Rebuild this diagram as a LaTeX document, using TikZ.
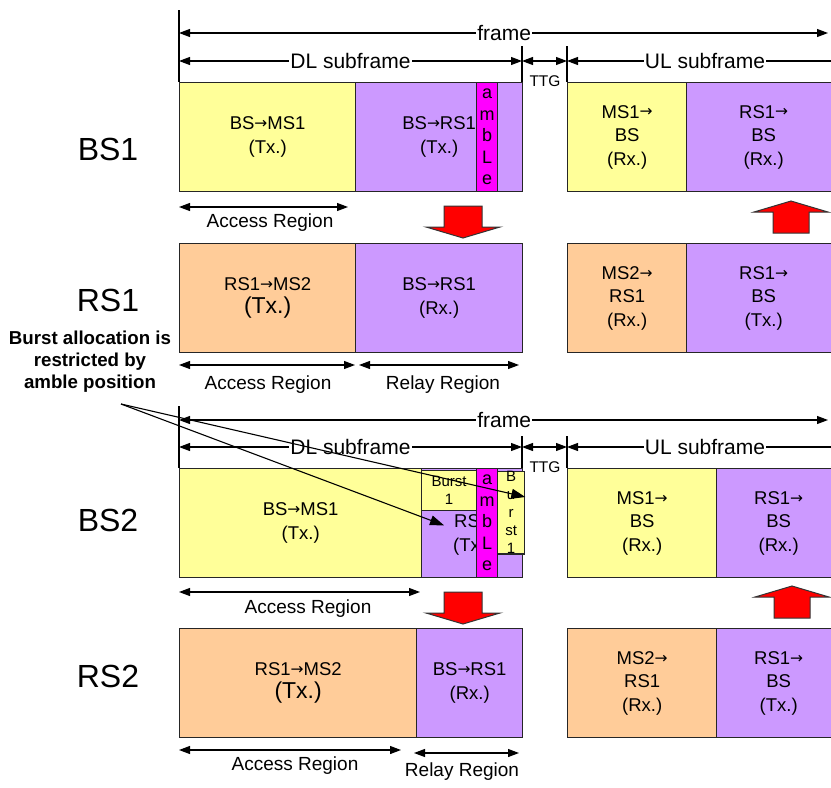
\documentclass[tikz,border=0pt]{standalone}
\usepackage{fontspec}
\setmainfont{Liberation Sans}
\newfontfamily\arrowfont{DejaVu Sans}
\usetikzlibrary{arrows.meta,positioning}
\definecolor{slotYel}{HTML}{FFFF99}
\definecolor{slotVio}{HTML}{CC99FF}
\definecolor{slotOra}{HTML}{FFCC99}
\definecolor{slotAmb}{HTML}{FF00FF}
\definecolor{fatRed}{HTML}{FF0000}
\newcommand{\ar}{\raisebox{1.2pt}{\arrowfont\fontsize{15.5}{15.5}\selectfont\char"2192}}
\newcommand{\fatdown}[2]{% #1 = centre x, #2 = top y
  \draw[fatarrow] (#1-19,#2) -- (#1+19,#2) -- (#1+19,#2+21) -- (#1+37,#2+21)
    -- (#1,#2+32) -- (#1-37,#2+21) -- (#1-19,#2+21) -- cycle;}
\newcommand{\fatup}[2]{% #1 = centre x, #2 = tip y
  \draw[fatarrow] (#1,#2) -- (#1+37,#2+11) -- (#1+18,#2+11) -- (#1+18,#2+32)
    -- (#1-18,#2+32) -- (#1-18,#2+11) -- (#1-37,#2+11) -- cycle;}
\tikzset{
  slot/.style={
    rectangle, draw=black!85, line width=1.3pt,
    anchor=north west, inner sep=0pt, align=center,
    minimum height=109pt,
    font=\fontsize{18.5}{23.5}\selectfont
  },
  yel/.style={slot, fill=slotYel},
  vio/.style={slot, fill=slotVio},
  ora/.style={slot, fill=slotOra},
  amb/.style={slot, fill=slotAmb, minimum width=21pt,
    font=\fontsize{18}{21.5}\selectfont},
  burst/.style={slot, fill=slotYel, minimum height=40pt,
    font=\fontsize{15}{18}\selectfont},
  dim/.style={{Triangle[length=11pt,width=8pt]}-{Triangle[length=11pt,width=8pt]},
    line width=1.1pt},
  tick/.style={line width=1.1pt},
  dimlbl/.style={fill=white, inner sep=1pt, font=\fontsize{21}{21}\selectfont},
  ttg/.style={font=\fontsize{15.5}{15.5}\selectfont},
  region/.style={font=\fontsize{19}{19}\selectfont},
  station/.style={font=\fontsize{32}{32}\selectfont},
  note/.style={align=center, font=\bfseries\fontsize{18.7}{22}\selectfont},
  pointer/.style={-{Triangle[length=14pt,width=10pt]}, line width=1.1pt},
  fatarrow/.style={draw=black!80, line width=1pt, fill=fatRed}
}
\begin{document}
\begin{tikzpicture}[x=1pt, y=-1pt]
  \useasboundingbox (0,0) rectangle (831,788);

  % --- station labels
  \node[station] (lblBsOne) at (108,149) {BS1};
  \node[station] (lblRsOne) at (108,300) {RS1};
  \node[station] (lblBsTwo) at (108,520) {BS2};
  \node[station] (lblRsTwo) at (108,676) {RS2};

  % --- BS1 row
  \node[yel, minimum width=176pt] (bsOneMs) at (179,82) {BS\ar MS1\\(Tx.)};
  \node[vio, minimum width=167pt] (bsOneRs) at (355,82) {BS\ar RS1\\(Tx.)};
  \node[amb]                      (ambOne)  at (476,82) {a\\m\\b\\L\\e};
  \node[yel, minimum width=119pt] (ulOneMs) at (567,82) {MS1\ar\\BS\\(Rx.)};
  \node[vio, minimum width=154pt] (ulOneRs) at (686,82) {RS1\ar\\BS\\(Rx.)};

  % --- RS1 row
  \node[ora, minimum width=176pt] (rsOneMs) at (179,243)
        {RS1\ar MS2\\{\fontsize{23}{26}\selectfont(Tx.)}};
  \node[vio, minimum width=167pt] (rsOneBs) at (355,243) {BS\ar RS1\\(Rx.)};
  \node[ora, minimum width=119pt] (ulTwoMs) at (567,243) {MS2\ar\\RS1\\(Rx.)};
  \node[vio, minimum width=154pt] (ulTwoRs) at (686,243) {RS1\ar\\BS\\(Tx.)};

  % --- BS2 row
  \node[vio, minimum width=101pt] (bsTwoRs) at (421,468) {BS\ar\\RS1\\(Tx.)};
  \node[yel, minimum width=242pt] (bsTwoMs) at (179,468) {BS\ar MS1\\(Tx.)};
  \node[burst, minimum width=55pt] (burstA) at (421,470) {Burst\\1};
  \node[amb]                       (ambTwo) at (476,468) {a\\m\\b\\L\\e};
  \node[burst, minimum width=27pt, minimum height=80pt] (burstB) at (497,471)
        {B\\u\\r\\st\\1};
  \node[yel, minimum width=149pt] (ulThreeMs) at (567,468) {MS1\ar\\BS\\(Rx.)};
  \node[vio, minimum width=124pt] (ulThreeRs) at (716,468) {RS1\ar\\BS\\(Rx.)};

  % --- RS2 row
  \node[ora, minimum width=237pt] (rsTwoMs) at (179,628)
        {RS1\ar MS2\\{\fontsize{23}{26}\selectfont(Tx.)}};
  \node[vio, minimum width=106pt] (rsTwoBs) at (416,628) {BS\ar RS1\\(Rx.)};
  \node[ora, minimum width=149pt] (ulFourMs) at (567,628) {MS2\ar\\RS1\\(Rx.)};
  \node[vio, minimum width=124pt] (ulFourRs) at (716,628) {RS1\ar\\BS\\(Tx.)};

  % --- frame dimensions, upper part
  \draw[tick] (179,10) -- (bsOneMs.north west);
  \draw[tick] (522,46) -- (522,82);
  \draw[tick] (567,46) -- (ulOneMs.north west);
  \draw[dim] (179,33) -- node[dimlbl, pos=0.501] (frameOne) {frame} (828,33);
  \draw[dim] (179,61) -- node[dimlbl, pos=0.5] (dlOne) {DL subframe} (522,61);
  \draw[dim] (522,61) -- (567,61);
  \draw[dim] (567,61) -- node[dimlbl, pos=0.5] (ulOne) {UL subframe} (843,61);
  \node[ttg] (ttgOne) at (545,81) {TTG};

  % --- frame dimensions, lower part
  \draw[tick] (179,406) -- (bsTwoMs.north west);
  \draw[tick] (522,436) -- (522,468);
  \draw[tick] (567,436) -- (ulThreeMs.north west);
  \draw[dim] (179,420) -- node[dimlbl, pos=0.501] (frameTwo) {frame} (828,420);
  \draw[dim] (179,447) -- node[dimlbl, pos=0.5] (dlTwo) {DL subframe} (522,447);
  \draw[dim] (522,447) -- (567,447);
  \draw[dim] (567,447) -- node[dimlbl, pos=0.5] (ulTwo) {UL subframe} (843,447);
  \node[ttg] (ttgTwo) at (545,467) {TTG};

  % --- region arrows
  \draw[dim] (179,207) -- (348,207);
  \node[region] (accOne) at (270,223) {Access Region};
  \draw[dim] (179,365) -- (355,365);
  \node[region] (accTwo) at (268,385) {Access Region};
  \draw[dim] (359,365) -- (519,365);
  \node[region] (relTwo) at (443,385) {Relay Region};
  \draw[dim] (179,592) -- (420,592);
  \node[region] (accThree) at (308,609) {Access Region};
  \draw[dim] (179,750) -- (401,750);
  \node[region] (accFour) at (295,766) {Access Region};
  \draw[dim] (414,753) -- (519,753);
  \node[region] (relFour) at (462,772) {Relay Region};

  % --- relay hand-over arrows
  \fatdown{463}{206}
  \fatup{791}{201}
  \fatdown{463}{592}
  \fatup{792}{586}

  % --- burst note
  \node[note] (burstNote) at (90,362) {Burst allocation is\\restricted by\\amble position};
  \coordinate (noteTail) at (121,404);
  \draw[pointer] (noteTail) -- ([xshift=23pt, yshift=-14pt]burstA.south west);
  \draw[pointer] (noteTail) -- ([yshift=-26pt]burstB.north east);
\end{tikzpicture}
\end{document}
